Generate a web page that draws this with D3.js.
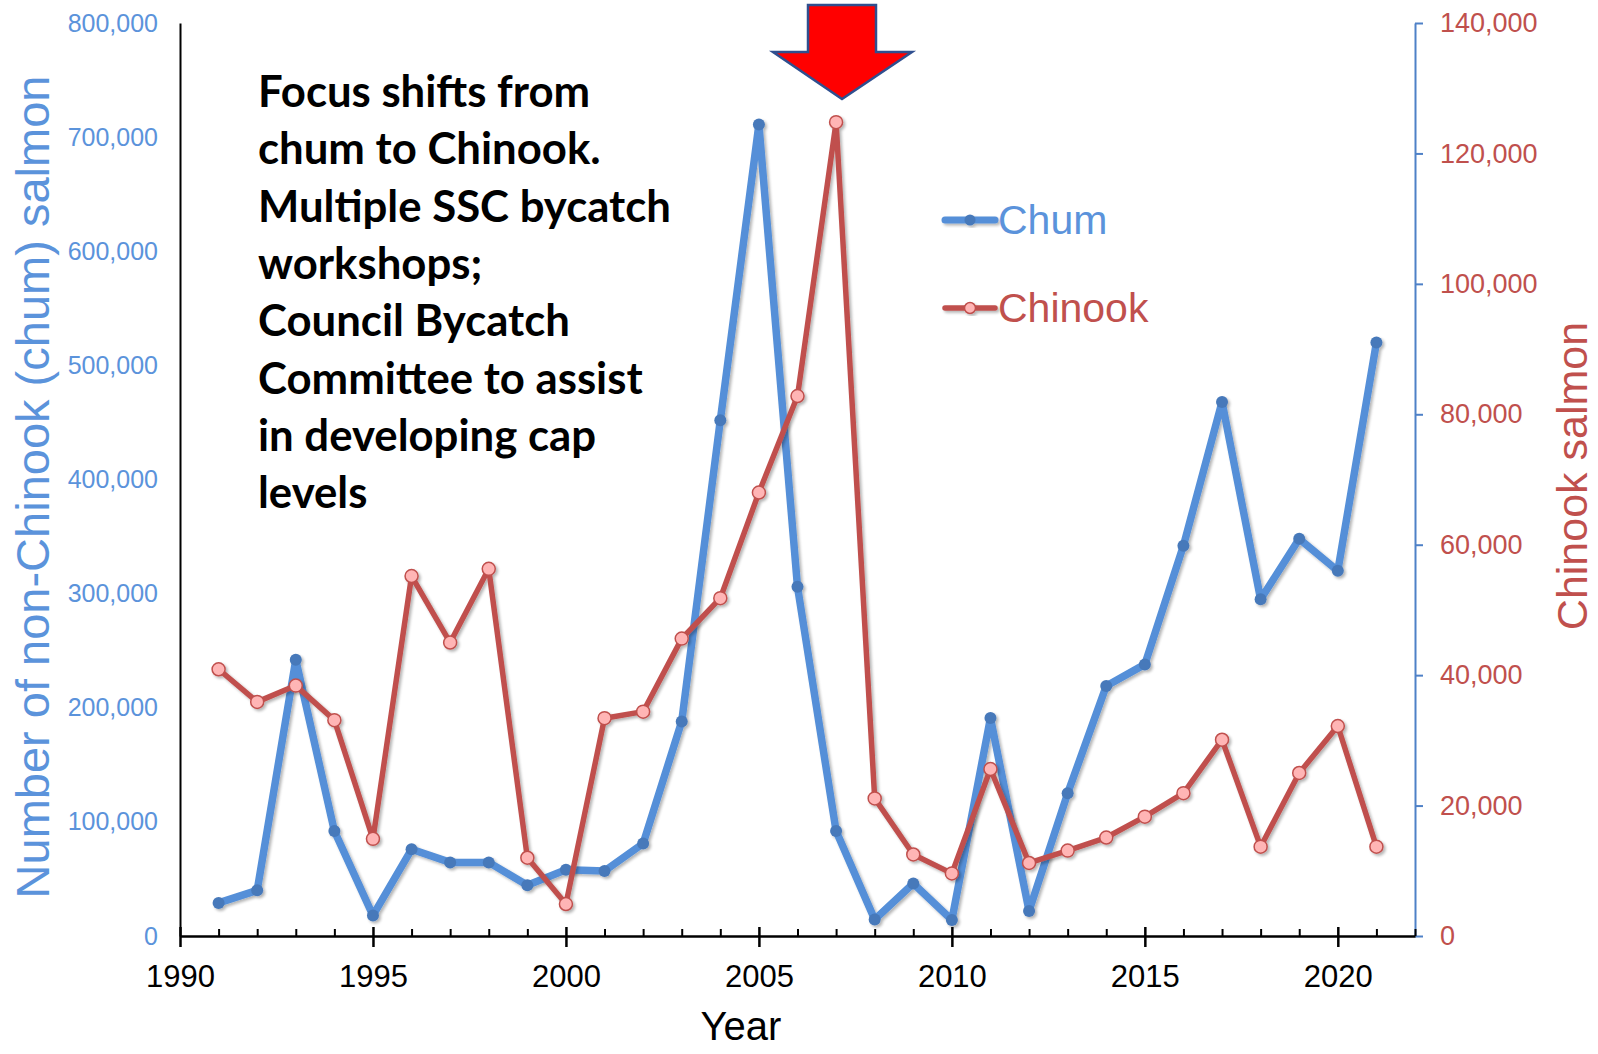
<!DOCTYPE html>
<html>
<head>
<meta charset="utf-8">
<script src="https://cdn.jsdelivr.net/npm/d3@7"></script>
<style>
  html, body { margin: 0; padding: 0; background: #ffffff; }
  svg { display: block; }
</style>
</head>
<body>
<svg id="chart" width="1598" height="1054"></svg>
<script>
// ---------------- data ----------------
const years = [1991, 1992, 1993, 1994, 1995, 1996, 1997, 1998, 1999, 2000,
               2001, 2002, 2003, 2004, 2005, 2006, 2007, 2008, 2009, 2010,
               2011, 2012, 2013, 2014, 2015, 2016, 2017, 2018, 2019, 2020, 2021];
const chum = [29000, 40000, 242000, 92000, 18000, 76000, 64500, 64500, 44500, 58000,
              57000, 81000, 188000, 452000, 711000, 306000, 92000, 14500, 46000, 14000,
              191000, 22000, 125000, 219000, 238000, 342000, 468000, 295000, 348000, 320000, 520000];
const chinook = [40900, 35900, 38400, 33100, 14900, 55200, 45000, 56300, 12000, 4900,
                 33400, 34400, 45600, 51800, 68000, 82800, 124800, 21100, 12500, 9600,
                 25600, 11200, 13100, 15100, 18300, 21900, 30100, 13700, 25000, 32200, 13700];
const majorYearTicks = [1990, 1995, 2000, 2005, 2010, 2015, 2020];
const minorYearTicks = [1991, 1992, 1993, 1994, 1996, 1997, 1998, 1999, 2001, 2002, 2003, 2004,
                        2006, 2007, 2008, 2009, 2011, 2012, 2013, 2014, 2016, 2017, 2018, 2019,
                        2021, 2022];
const leftTicks = [0, 100000, 200000, 300000, 400000, 500000, 600000, 700000, 800000];
const rightTicks = [0, 20000, 40000, 60000, 80000, 100000, 120000, 140000];
const seriesNames = ["Chum", "Chinook"];
const annotationLines = [
  "Focus shifts from",
  "chum to Chinook.",
  "Multiple SSC bycatch",
  "workshops;",
  "Council Bycatch",
  "Committee to assist",
  "in developing cap",
  "levels"
];
const xTitle = "Year";
const leftTitle = "Number of non-Chinook (chum) salmon";
const rightTitle = "Chinook salmon";

// ---------------- styles ----------------
const BLUE = "#548fd8";
const BLUE_MARK = "#4779ba";
const BLUE_TEXT = "#5b93db";
const RED = "#c0504d";
const PINK = "#ffb5b5";
const FONT = "'Liberation Sans', Arial, Helvetica, sans-serif";

const svg = d3.select("#chart");

const x = d3.scaleLinear().domain([1990, 2022]).range([180, 1415]);
const yL = d3.scaleLinear().domain([0, 800000]).range([936, 23]);
const yR = d3.scaleLinear().domain([0, 140000]).range([936, 23]);

// shadow filter
const defs = svg.append("defs");
const f = defs.append("filter").attr("id", "shadow").attr("x", "-20%").attr("y", "-20%")
  .attr("width", "140%").attr("height", "140%");
f.append("feGaussianBlur").attr("in", "SourceAlpha").attr("stdDeviation", 1.6).attr("result", "b");
f.append("feOffset").attr("in", "b").attr("dx", 1.5).attr("dy", 2).attr("result", "o");
f.append("feComponentTransfer").attr("in", "o").attr("result", "o2")
  .append("feFuncA").attr("type", "linear").attr("slope", 0.3);
const fm = f.append("feMerge");
fm.append("feMergeNode").attr("in", "o2");
fm.append("feMergeNode").attr("in", "SourceGraphic");

// ---------------- axes ----------------
// left axis
const gL = svg.append("g").attr("transform", "translate(180,0)")
  .call(d3.axisLeft(yL).tickValues(leftTicks).tickSize(0).tickPadding(22).tickFormat(d3.format(",")));
gL.select(".domain").attr("stroke", "#000").attr("stroke-width", 2);
gL.selectAll("text").attr("font-family", FONT).attr("font-size", 25).attr("fill", BLUE_TEXT);

// right axis
const gR = svg.append("g").attr("transform", "translate(1415,0)")
  .call(d3.axisRight(yR).tickValues(rightTicks).tickSizeInner(8).tickSizeOuter(0).tickPadding(17)
    .tickFormat(d3.format(",")));
gR.select(".domain").attr("stroke", "#4f81c7").attr("stroke-width", 2);
gR.selectAll(".tick line").attr("stroke", "#4f81c7").attr("stroke-width", 2);
gR.selectAll("text").attr("font-family", FONT).attr("font-size", 27).attr("fill", RED);

// bottom axis: minor ticks (upward)
const gBm = svg.append("g").attr("transform", "translate(0,936)")
  .call(d3.axisBottom(x).tickValues(minorYearTicks).tickSizeInner(-7).tickSizeOuter(0).tickFormat(""));
gBm.select(".domain").attr("stroke", "#000").attr("stroke-width", 2.5);
gBm.selectAll(".tick line").attr("stroke", "#000").attr("stroke-width", 2);

// bottom axis: major ticks (crossing) with labels
const gB = svg.append("g").attr("transform", "translate(0,936)")
  .call(d3.axisBottom(x).tickValues(majorYearTicks).tickSizeInner(11).tickSizeOuter(0).tickFormat(d3.format("d")));
gB.select(".domain").remove();
gB.selectAll(".tick line").attr("y1", -9).attr("stroke", "#000").attr("stroke-width", 2.5);
gB.selectAll("text").attr("font-family", FONT).attr("font-size", 31).attr("fill", "#000")
  .attr("y", 987 - 936).attr("dy", 0);

// axis titles
svg.append("text")
  .attr("transform", "translate(49,487) rotate(-90)")
  .attr("text-anchor", "middle")
  .attr("font-family", FONT).attr("font-size", 47).attr("fill", BLUE_TEXT)
  .text(leftTitle);

svg.append("text")
  .attr("transform", "translate(1587,476) rotate(-90)")
  .attr("text-anchor", "middle")
  .attr("font-family", FONT).attr("font-size", 43).attr("fill", RED)
  .text(rightTitle);

svg.append("text")
  .attr("x", 741).attr("y", 1040)
  .attr("text-anchor", "middle")
  .attr("font-family", FONT).attr("font-size", 40).attr("fill", "#000")
  .text(xTitle);

// ---------------- series ----------------
const chumData = years.map((yr, i) => ({ yr, v: chum[i] }));
const chinookData = years.map((yr, i) => ({ yr, v: chinook[i] }));

const lineL = d3.line().x(d => x(d.yr)).y(d => yL(d.v));
const lineR = d3.line().x(d => x(d.yr)).y(d => yR(d.v));

const gChum = svg.append("g").attr("filter", "url(#shadow)");
gChum.append("path").datum(chumData).attr("d", lineL)
  .attr("fill", "none").attr("stroke", BLUE).attr("stroke-width", 7.5)
  .attr("stroke-linejoin", "round").attr("stroke-linecap", "round");
gChum.selectAll("circle").data(chumData).join("circle")
  .attr("cx", d => x(d.yr)).attr("cy", d => yL(d.v)).attr("r", 6)
  .attr("fill", BLUE_MARK);

const gChin = svg.append("g").attr("filter", "url(#shadow)");
gChin.append("path").datum(chinookData).attr("d", lineR)
  .attr("fill", "none").attr("stroke", RED).attr("stroke-width", 5.5)
  .attr("stroke-linejoin", "round").attr("stroke-linecap", "round");
gChin.selectAll("circle").data(chinookData).join("circle")
  .attr("cx", d => x(d.yr)).attr("cy", d => yR(d.v)).attr("r", 6.5)
  .attr("fill", PINK).attr("stroke", RED).attr("stroke-width", 1.5);

// ---------------- legend ----------------
const legend = svg.append("g");
const legY = [220, 308];
const legColors = [BLUE, RED];
seriesNames.forEach((name, i) => {
  const g = legend.append("g").attr("filter", "url(#shadow)");
  g.append("line").attr("x1", 945).attr("x2", 995).attr("y1", legY[i]).attr("y2", legY[i])
    .attr("stroke", legColors[i]).attr("stroke-width", i === 0 ? 7 : 5.5).attr("stroke-linecap", "round");
  if (i === 0) {
    g.append("circle").attr("cx", 970).attr("cy", legY[i]).attr("r", 5.5).attr("fill", BLUE_MARK);
  } else {
    g.append("circle").attr("cx", 970).attr("cy", legY[i]).attr("r", 5.5)
      .attr("fill", PINK).attr("stroke", RED).attr("stroke-width", 1.5);
  }
  legend.append("text").attr("x", 998).attr("y", legY[i] + 14)
    .attr("font-family", FONT).attr("font-size", 41)
    .attr("fill", i === 0 ? BLUE_TEXT : RED).text(name);
});

// ---------------- annotation ----------------
const ann = svg.append("g");
const annTexts = ann.selectAll("text").data(annotationLines).join("text")
  .attr("x", 258).attr("y", (d, i) => 107 + i * 57.3)
  .attr("font-family", "Lato, 'Open Sans', sans-serif").attr("font-weight", "bold")
  .attr("font-size", 40).attr("fill", "#000")
  .text(d => d);
// scale font so the widest line matches the reference (~413px)
let maxW = 0;
annTexts.each(function () { maxW = Math.max(maxW, this.getComputedTextLength()); });
if (maxW > 0) annTexts.attr("font-size", 40 * 413 / maxW);

// ---------------- arrow ----------------
const arrowPts = [[808, 5], [876, 5], [876, 52], [912, 52], [842, 99], [773, 52], [808, 52]];
svg.append("polygon")
  .attr("points", arrowPts.map(p => p.join(",")).join(" "))
  .attr("fill", "#ff0000").attr("stroke", "#2f4f8f").attr("stroke-width", 2.5)
  .attr("stroke-linejoin", "miter");
</script>
</body>
</html>
